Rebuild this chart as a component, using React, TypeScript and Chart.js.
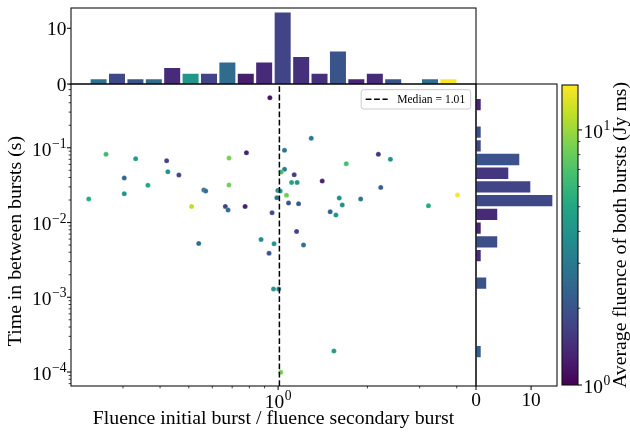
import React, { useEffect, useRef } from 'react';
import { Chart, registerables } from 'chart.js';

Chart.register(...registerables);

// ---------------- data ----------------
// scatter: ratio of fluences (x), waiting time in s (y), average fluence in Jy ms (colour)
const RATIO = [
  0.938, 1.293, 1.051, 0.263, 0.331, 0.421, 0.683, 0.782, 2.177, 2.390,
  1.697, 1.051, 1.024, 1.133, 0.303, 0.425, 0.463, 0.364, 0.683, 1.110,
  1.159, 1.408, 2.218, 0.562, 0.570, 0.998, 1.016, 0.303, 0.230, 0.990,
  1.067, 1.607, 1.898, 4.025, 0.511, 0.664, 0.678, 0.774, 1.084, 1.172,
  1.645, 3.212, 0.954, 1.498, 1.566, 1.154, 0.876, 0.969, 0.540, 1.218,
  0.932, 0.965, 1.005, 1.542, 1.021,
];
const WAIT_S = [
  0.467, 0.1337, 0.0923, 0.0816, 0.0713, 0.067, 0.0727, 0.0857, 0.0816, 0.070,
  0.0611, 0.0514, 0.0473, 0.0435, 0.0393, 0.0478, 0.0431, 0.0314, 0.0317, 0.0344,
  0.0344, 0.0358, 0.0295, 0.0272, 0.0263, 0.0269, 0.0263, 0.0242, 0.0207, 0.0214,
  0.0231, 0.0212, 0.0206, 0.0233, 0.0164, 0.0164, 0.0147, 0.0164, 0.0182, 0.0178,
  0.0172, 0.0167, 0.0135, 0.0139, 0.01256, 0.0076, 0.00594, 0.00519, 0.00525, 0.00502,
  0.00389, 0.00129, 0.00129, 0.000191, 0.0000993,
];
const FLUENCE = [
  1.15, 2.95, 2.9, 6.3, 4.4, 1.7, 8.7, 1.3, 1.5, 3.9,
  6.6, 3.0, 6.6, 1.6, 2.4, 3.9, 1.7, 5.0, 8.3, 4.8,
  3.9, 1.3, 2.25, 2.6, 2.6, 3.4, 3.9, 3.9, 5.2, 2.8,
  8.3, 3.7, 2.8, 14.8, 11.4, 1.7, 2.6, 1.24, 2.0, 2.1,
  3.7, 5.1, 1.8, 2.25, 3.9, 1.7, 3.7, 3.9, 2.6, 2.7,
  2.0, 4.1, 2.95, 4.4, 8.7,
];
const MEDIAN = 1.01;

// top histogram (log-spaced bins over the ratio)
const TOP_BIN_CENTERS = [
  0.2483, 0.2864, 0.3304, 0.3811, 0.4395, 0.5070, 0.5848, 0.6745, 0.7780, 0.8974,
  1.036, 1.196, 1.379, 1.591, 1.835, 2.118, 2.443, 2.818, 3.251, 3.750,
];
const TOP_COUNTS = [1, 2, 1, 1, 3, 2, 2, 4, 2, 4, 13, 5, 2, 6, 1, 2, 1, 0, 1, 1];
const TOP_MEAN_FLUENCE = [
  2.7, 1.81, 1.97, 2.6, 1.38, 4.1, 1.72, 2.6, 1.24, 1.38,
  1.72, 1.45, 1.45, 2.02, 1.32, 1.38, 1.97, null, 2.7, 14.8,
];

// right histogram (log-spaced bins over the waiting time)
const RIGHT_BIN_CENTERS = [
  0.3777, 0.2474, 0.1622, 0.1063, 0.06963, 0.04562, 0.02989, 0.01959, 0.01283, 0.00841,
  0.005511, 0.003611, 0.002366, 0.00155, 0.001016, 0.0006656, 0.0004361, 0.0002858, 0.0001873, 0.0001227,
];
const RIGHT_COUNTS = [1, 0, 1, 1, 8, 6, 10, 14, 4, 1, 4, 1, 0, 2, 0, 0, 0, 0, 1, 0];
const RIGHT_MEAN_FLUENCE = [
  1.31, null, 1.92, 1.81, 1.97, 1.54, 1.72, 1.81, 1.38, 1.31,
  1.92, 1.38, null, 1.97, null, null, null, null, 2.25, null,
];

// axis ranges
const X_RANGE = [0.2004, 4.645];
const Y_RANGE = [6.5e-5, 0.7129];
const TOP_COUNT_RANGE = [0, 13.65];
const RIGHT_COUNT_RANGE = [0, 14.7];
const CBAR_RANGE = [1, 15];
const TOP_TICKS = [0, 10];
const RIGHT_TICKS = [0, 10];

const X_TITLE = 'Fluence initial burst / fluence secondary burst';
const Y_TITLE = 'Time in between bursts (s)';
const CBAR_TITLE = 'Average fluence of both bursts (Jy ms)';

// ---------------- styling helpers ----------------
const FAMILY = '"Liberation Serif", "Times New Roman", Times, serif';
const FS = 19.4;
const TFS = 19.8;
const LINE = '#111111';
const VIRIDIS = [
  '#440154', '#482475', '#414487', '#355f8d', '#2a788e', '#21918c',
  '#22a884', '#44bf70', '#7ad151', '#bddf26', '#fde725',
];

function hexToRgb(h: string) {
  return [parseInt(h.slice(1, 3), 16), parseInt(h.slice(3, 5), 16), parseInt(h.slice(5, 7), 16)];
}
function viridis(t: number) {
  const tt = Math.max(0, Math.min(1, t)) * (VIRIDIS.length - 1);
  const i = Math.min(VIRIDIS.length - 2, Math.floor(tt));
  const f = tt - i;
  const a = hexToRgb(VIRIDIS[i]);
  const b = hexToRgb(VIRIDIS[i + 1]);
  const c = a.map((v, k) => Math.round(v + (b[k] - v) * f));
  return `rgb(${c[0]},${c[1]},${c[2]})`;
}
function colorFor(v: number) {
  return viridis(Math.log(v / CBAR_RANGE[0]) / Math.log(CBAR_RANGE[1] / CBAR_RANGE[0]));
}
function font(size: number) {
  return `${size}px ${FAMILY}`;
}
function logTicks(min: number, max: number) {
  const out: { v: number; major: boolean; e: number }[] = [];
  for (let e = Math.floor(Math.log10(min)); e <= Math.ceil(Math.log10(max)); e++) {
    for (let m = 1; m <= 9; m++) {
      const v = m * Math.pow(10, e);
      if (v >= min * 0.9999 && v <= max * 1.0001) out.push({ v, major: m === 1, e });
    }
  }
  return out;
}
function drawPow10(ctx: CanvasRenderingContext2D, exp: number, x: number, baseline: number, align: string) {
  const base = '10';
  const sup = exp < 0 ? '\u2212' + String(-exp) : String(exp);
  ctx.font = font(FS);
  const wb = ctx.measureText(base).width;
  ctx.font = font(FS * 0.7);
  const ws = ctx.measureText(sup).width;
  const gap = 0.6;
  const total = wb + gap + ws;
  const x0 = align === 'right' ? x - total : align === 'center' ? x - total / 2 : x;
  ctx.textAlign = 'left';
  ctx.textBaseline = 'alphabetic';
  ctx.fillStyle = '#000';
  ctx.font = font(FS);
  ctx.fillText(base, x0, baseline);
  ctx.font = font(FS * 0.7);
  ctx.fillText(sup, x0 + wb + gap, baseline - FS * 0.4);
}
function drawFrame(ctx: CanvasRenderingContext2D, a: any) {
  ctx.save();
  ctx.strokeStyle = LINE;
  ctx.lineWidth = 1.1;
  ctx.strokeRect(a.left, a.top, a.right - a.left, a.bottom - a.top);
  ctx.restore();
}
function tick(ctx: CanvasRenderingContext2D, x1: number, y1: number, x2: number, y2: number, w: number) {
  ctx.save();
  ctx.strokeStyle = LINE;
  ctx.lineWidth = w;
  ctx.beginPath();
  ctx.moveTo(x1, y1);
  ctx.lineTo(x2, y2);
  ctx.stroke();
  ctx.restore();
}
const MAJ = 4;
const MIN = 2.4;

// ---------------- plugins ----------------
const mainPlugin = {
  id: 'mainDecor',
  afterDraw(chart: any) {
    const { ctx, chartArea: a, scales } = chart;
    const sx = scales.x;
    const sy = scales.y;
    drawFrame(ctx, a);
    for (const t of logTicks(X_RANGE[0], X_RANGE[1])) {
      const px = sx.getPixelForValue(t.v);
      tick(ctx, px, a.bottom, px, a.bottom + (t.major ? MAJ : MIN), t.major ? 1.1 : 0.8);
      if (t.major) drawPow10(ctx, t.e, px, a.bottom + 21.7, 'center');
    }
    for (const t of logTicks(Y_RANGE[0], Y_RANGE[1])) {
      const py = sy.getPixelForValue(t.v);
      tick(ctx, a.left, py, a.left - (t.major ? MAJ : MIN), py, t.major ? 1.1 : 0.8);
      if (t.major) drawPow10(ctx, t.e, a.left - 4.5, py + FS * 0.4, 'right');
    }
    ctx.save();
    ctx.fillStyle = '#000';
    ctx.font = font(TFS);
    ctx.textAlign = 'center';
    ctx.textBaseline = 'alphabetic';
    ctx.fillText(X_TITLE, (a.left + a.right) / 2, a.bottom + 38);
    ctx.translate(20.5, (a.top + a.bottom) / 2 + 6);
    ctx.rotate(-Math.PI / 2);
    ctx.fillText(Y_TITLE, 0, 0);
    ctx.restore();

    // legend
    const lfs = 11.6;
    ctx.save();
    ctx.font = font(lfs);
    const text = `Median = ${MEDIAN.toFixed(2)}`;
    const tw = ctx.measureText(text).width;
    const w = 36 + tw + 5.5;
    const h = 19.3;
    const x = a.right - 5.3 - w;
    const y = a.top + 5.7;
    ctx.beginPath();
    ctx.roundRect(x, y, w, h, 2.5);
    ctx.fillStyle = 'rgba(255,255,255,0.8)';
    ctx.fill();
    ctx.strokeStyle = '#cccccc';
    ctx.lineWidth = 1;
    ctx.stroke();
    ctx.beginPath();
    ctx.setLineDash([5.8, 2.6]);
    ctx.moveTo(x + 4.5, y + h / 2);
    ctx.lineTo(x + 26.5, y + h / 2);
    ctx.strokeStyle = '#000';
    ctx.lineWidth = 1.5;
    ctx.stroke();
    ctx.setLineDash([]);
    ctx.fillStyle = '#000';
    ctx.textAlign = 'left';
    ctx.textBaseline = 'middle';
    ctx.fillText(text, x + 36, y + h / 2 + 0.5);
    ctx.restore();
  },
};

const topPlugin = {
  id: 'topDecor',
  afterDraw(chart: any) {
    const { ctx, chartArea: a, scales } = chart;
    drawFrame(ctx, a);
    for (const v of TOP_TICKS) {
      const py = scales.y.getPixelForValue(v);
      tick(ctx, a.left, py, a.left - MAJ, py, 1.1);
      ctx.save();
      ctx.fillStyle = '#000';
      ctx.font = font(FS);
      ctx.textAlign = 'right';
      ctx.textBaseline = 'alphabetic';
      ctx.fillText(String(v), a.left - 4.5, py + FS * 0.34);
      ctx.restore();
    }
  },
};

const rightPlugin = {
  id: 'rightDecor',
  afterDraw(chart: any) {
    const { ctx, chartArea: a, scales } = chart;
    drawFrame(ctx, a);
    for (const v of RIGHT_TICKS) {
      const px = scales.x.getPixelForValue(v);
      tick(ctx, px, a.bottom, px, a.bottom + MAJ, 1.1);
      ctx.save();
      ctx.fillStyle = '#000';
      ctx.font = font(FS);
      ctx.textAlign = 'center';
      ctx.textBaseline = 'alphabetic';
      ctx.fillText(String(v), px, a.bottom + 19.5);
      ctx.restore();
    }
  },
};

const cbarPlugin = {
  id: 'cbarDecor',
  beforeDatasetsDraw(chart: any) {
    const { ctx, chartArea: a, scales } = chart;
    const y0 = scales.y.getPixelForValue(CBAR_RANGE[0]);
    const y1 = scales.y.getPixelForValue(CBAR_RANGE[1]);
    const g = ctx.createLinearGradient(0, y0, 0, y1);
    VIRIDIS.forEach((c, i) => g.addColorStop(i / (VIRIDIS.length - 1), c));
    ctx.save();
    ctx.fillStyle = g;
    ctx.fillRect(a.left, a.top, a.right - a.left, a.bottom - a.top);
    ctx.restore();
  },
  afterDraw(chart: any) {
    const { ctx, chartArea: a, scales } = chart;
    drawFrame(ctx, a);
    for (const t of logTicks(CBAR_RANGE[0], CBAR_RANGE[1])) {
      const py = scales.y.getPixelForValue(t.v);
      tick(ctx, a.right, py, a.right + (t.major ? MAJ : MIN), py, t.major ? 1.1 : 0.8);
      if (t.major) drawPow10(ctx, t.e, a.right + 5.5, py + FS * 0.4, 'left');
    }
    ctx.save();
    ctx.fillStyle = '#000';
    ctx.font = font(TFS);
    ctx.textAlign = 'center';
    ctx.textBaseline = 'alphabetic';
    ctx.translate(626, (a.top + a.bottom) / 2);
    ctx.rotate(-Math.PI / 2);
    ctx.fillText(CBAR_TITLE, 0, 0);
    ctx.restore();
  },
};

const common = {
  animation: false,
  responsive: false,
  maintainAspectRatio: false,
  devicePixelRatio: 1,
  events: [],
  plugins: { legend: { display: false }, tooltip: { enabled: false } },
};

// hidden index axes keep only their end ticks so bar widths follow the bin spacing
const endTicksOnly = (s: any) => {
  s.ticks = [{ value: s.min }, { value: s.max }];
};

function hiddenLog(range: number[], extra: any = {}) {
  return { type: 'logarithmic', min: range[0], max: range[1], display: false, bounds: 'data', ...extra };
}
function hiddenLin(range: number[], extra: any = {}) {
  return { type: 'linear', min: range[0], max: range[1], display: false, bounds: 'data', ...extra };
}

export default function App() {
  const topRef = useRef<HTMLCanvasElement>(null);
  const mainRef = useRef<HTMLCanvasElement>(null);
  const rightRef = useRef<HTMLCanvasElement>(null);
  const cbarRef = useRef<HTMLCanvasElement>(null);

  useEffect(() => {
    const points = RATIO.map((x, i) => ({ x, y: WAIT_S[i] }));
    const pointColors = FLUENCE.map((f) => colorFor(f));

    const topBars = TOP_BIN_CENTERS.map((x, i) => ({ x, y: TOP_COUNTS[i], f: TOP_MEAN_FLUENCE[i] })).filter((b) => b.y > 0);
    const rightBars = RIGHT_BIN_CENTERS.map((y, i) => ({ x: RIGHT_COUNTS[i], y, f: RIGHT_MEAN_FLUENCE[i] })).filter((b) => b.x > 0);

    const charts: Chart[] = [];

    charts.push(
      new Chart(topRef.current!, {
        type: 'bar',
        data: {
          datasets: [
            {
              data: topBars.map((b) => ({ x: b.x, y: b.y })),
              backgroundColor: topBars.map((b) => colorFor(b.f as number)),
              borderColor: 'rgba(255,255,255,0.55)',
              borderWidth: 0.8,
              borderSkipped: 'bottom',
              barPercentage: 0.96,
              categoryPercentage: 1,
            },
          ],
        },
        options: {
          ...common,
          layout: { padding: { left: 71, top: 8, right: 630 - 476, bottom: 432 - 84 } },
          scales: {
            x: hiddenLog(X_RANGE, { offset: false, afterBuildTicks: endTicksOnly }),
            y: hiddenLin(TOP_COUNT_RANGE),
          },
        } as any,
        plugins: [topPlugin],
      } as any)
    );

    charts.push(
      new Chart(mainRef.current!, {
        type: 'scatter',
        data: {
          datasets: [
            {
              type: 'line',
              data: [
                { x: MEDIAN, y: Y_RANGE[0] },
                { x: MEDIAN, y: Y_RANGE[1] },
              ],
              borderColor: '#000',
              borderWidth: 1.5,
              borderDash: [5.8, 2.6],
              pointRadius: 0,
              fill: false,
            },
            {
              data: points,
              backgroundColor: pointColors,
              borderColor: 'rgba(255,255,255,0.55)',
              borderWidth: 0.4,
              pointRadius: 2.5,
            },
          ],
        },
        options: {
          ...common,
          layout: { padding: { left: 71, top: 84, right: 630 - 476, bottom: 432 - 386 } },
          scales: {
            x: hiddenLog(X_RANGE),
            y: hiddenLog(Y_RANGE),
          },
        } as any,
        plugins: [mainPlugin],
      } as any)
    );

    charts.push(
      new Chart(rightRef.current!, {
        type: 'bar',
        data: {
          datasets: [
            {
              data: rightBars.map((b) => ({ x: b.x, y: b.y })),
              backgroundColor: rightBars.map((b) => colorFor(b.f as number)),
              borderColor: 'rgba(255,255,255,0.55)',
              borderWidth: 0.8,
              borderSkipped: 'left',
              barPercentage: 0.94,
              categoryPercentage: 1,
            },
          ],
        },
        options: {
          ...common,
          indexAxis: 'y',
          layout: { padding: { left: 476, top: 84, right: 630 - 557, bottom: 432 - 386 } },
          scales: {
            y: hiddenLog(Y_RANGE, { offset: false, afterBuildTicks: endTicksOnly }),
            x: hiddenLin(RIGHT_COUNT_RANGE),
          },
        } as any,
        plugins: [rightPlugin],
      } as any)
    );

    charts.push(
      new Chart(cbarRef.current!, {
        type: 'scatter',
        data: { datasets: [{ data: [] }] },
        options: {
          ...common,
          layout: { padding: { left: 562, top: 85, right: 630 - 578, bottom: 432 - 385 } },
          scales: {
            x: hiddenLin([0, 1]),
            y: hiddenLog(CBAR_RANGE),
          },
        } as any,
        plugins: [cbarPlugin],
      } as any)
    );

    return () => charts.forEach((c) => c.destroy());
  }, []);

  const cs: React.CSSProperties = { position: 'absolute', left: 0, top: 0, width: 630, height: 432 };
  return (
    <div style={{ position: 'absolute', left: 0, top: 0, width: 630, height: 432, background: '#fff', overflow: 'hidden' }}>
      <canvas ref={topRef} width={630} height={432} style={cs} />
      <canvas ref={mainRef} width={630} height={432} style={cs} />
      <canvas ref={rightRef} width={630} height={432} style={cs} />
      <canvas ref={cbarRef} width={630} height={432} style={cs} />
    </div>
  );
}
